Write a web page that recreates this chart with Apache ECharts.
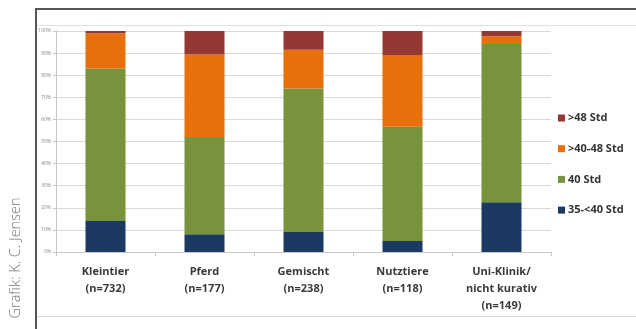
<!DOCTYPE html>
<html>
<head>
<meta charset="utf-8">
<script src="https://cdn.jsdelivr.net/npm/echarts@6/dist/echarts.min.js"></script>
<style>
  html, body { margin: 0; padding: 0; background: #fff; }
  #chart { width: 636px; height: 329px; }
</style>
</head>
<body>
<div id="chart"></div>
<script>
// Arbeitszeit je Praxistyp (Anteile in %)
const categories = ['Kleintier\n(n=732)', 'Pferd\n(n=177)', 'Gemischt\n(n=238)', 'Nutztiere\n(n=118)', 'Uni-Klinik/\nnicht kurativ\n(n=149)'];
const seriesNames = ['35-<40 Std', '40 Std', '>40-48 Std', '>48 Std'];
const std35to40 = [14, 8, 9, 5, 22.5];
const std40 = [69, 44, 65, 51.7, 71.6];
const std40to48 = [16, 37.4, 17.5, 32.4, 3.5];
const std48plus = [1, 10.6, 8.5, 10.9, 2.4];
const yTicks = ['0%', '10%', '20%', '30%', '40%', '50%', '60%', '70%', '80%', '90%', '100%'];
const colors = ['#1c3962', '#77933c', '#e8700c', '#953735'];

const values = [std35to40, std40, std40to48, std48plus];

const chart = echarts.init(document.getElementById('chart'), null, { renderer: 'canvas' });

chart.setOption({
  animation: false,
  backgroundColor: '#ffffff',
  grid: { left: 56, right: 85, top: 31, bottom: 77, containLabel: false },
  legend: {
    orient: 'vertical',
    left: 553,
    top: 106,
    itemWidth: 7,
    itemHeight: 7,
    itemGap: 16.7,
    icon: 'rect',
    data: ['>48 Std', '>40-48 Std', '40 Std', '35-<40 Std'],
    textStyle: { fontFamily: 'Open Sans', fontWeight: 'bold', fontSize: 11, color: '#333', lineHeight: 14, padding: [0, 0, 0, -2] }
  },
  xAxis: {
    type: 'category',
    data: categories,
    axisLine: { lineStyle: { color: '#c8c8c8' } },
    axisTick: { show: true, length: 4, lineStyle: { color: '#c8c8c8' } },
    axisLabel: {
      fontFamily: 'Open Sans', fontWeight: 'bold', fontSize: 11, color: '#3a3a3a',
      lineHeight: 17, margin: 11
    }
  },
  yAxis: {
    type: 'value',
    min: 0,
    max: 100,
    interval: 10,
    axisLine: { show: true, lineStyle: { color: '#c8c8c8' } },
    axisTick: { show: true, length: 3, lineStyle: { color: '#c8c8c8' } },
    splitLine: { lineStyle: { color: '#d9d9d9' } },
    axisLabel: {
      fontFamily: 'Open Sans', fontSize: 5, color: '#888',
      margin: 5,
      formatter: (v) => yTicks[Math.round(v / 10)]
    }
  },
  series: seriesNames.map((name, i) => ({
    name,
    type: 'bar',
    stack: 'total',
    barWidth: 40,
    itemStyle: { color: colors[i] },
    data: values[i]
  })),
  graphic: [
    { type: 'line', shape: { x1: 36, y1: 9, x2: 636, y2: 9 }, style: { stroke: '#555', lineWidth: 2 } },
    { type: 'line', shape: { x1: 36, y1: 8, x2: 36, y2: 329 }, style: { stroke: '#555', lineWidth: 2 } },
    { type: 'line', shape: { x1: 37, y1: 25.5, x2: 636, y2: 25.5 }, style: { stroke: '#e0e0e0', lineWidth: 1 } },
    { type: 'line', shape: { x1: 37, y1: 316.5, x2: 636, y2: 316.5 }, style: { stroke: '#d8d8d8', lineWidth: 1 } },
    {
      type: 'text',
      x: 16, y: 258,
      rotation: Math.PI / 2,
      style: {
        text: 'Grafik: K. C. Jensen',
        fontFamily: 'Open Sans', fontWeight: 300, fontSize: 14.5, fill: '#777',
        align: 'center', verticalAlign: 'middle'
      }
    }
  ]
});
</script>
</body>
</html>
